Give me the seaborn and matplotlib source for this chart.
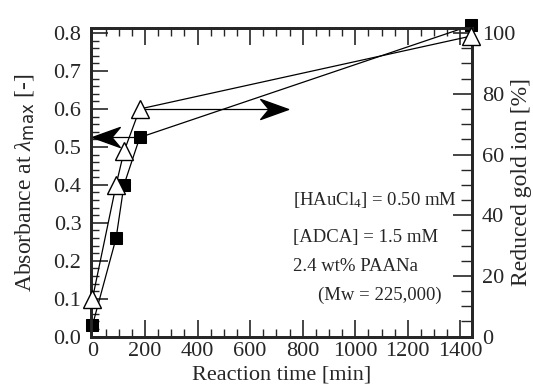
"""Absorbance and reduced gold ion vs reaction time."""

import matplotlib.pyplot as plt
import numpy as np
import pandas as pd
import seaborn as sns
from matplotlib.path import Path
from matplotlib.ticker import MultipleLocator

# data
time_min = [0, 90, 120, 180, 1440]
absorbance = [0.03, 0.26, 0.40, 0.525, 0.82]
reduced_pct = [12.5, 50, 61, 75, 99]

# arrows: (y value, from x, to x)
abs_arrow = (0.525, 180, 0)
pct_arrow = (75, 180, 745)

annot_lines = [
    r"[HAuCl$_4$] = 0.50 mM",
    "[ADCA] = 1.5 mM",
    "2.4 wt% PAANa",
    "(Mw = 225,000)",
]
annot_x = [763, 763, 763, 860]
annot_y = [0.36, 0.262, 0.186, 0.11]

sns.set_style("ticks")
plt.rcParams["font.family"] = ["Liberation Serif", "DejaVu Serif"]
plt.rcParams["mathtext.fontset"] = "custom"
plt.rcParams["mathtext.rm"] = "Liberation Serif"
plt.rcParams["mathtext.it"] = "Liberation Serif:italic"
plt.rcParams["mathtext.sf"] = "DejaVu Sans"

df = pd.DataFrame({"time": time_min, "abs": absorbance, "pct": reduced_pct})

fig = plt.figure(figsize=(5.33, 3.91), dpi=100)
ax = fig.add_axes([0.171, 0.139, 0.715, 0.789])
ax2 = ax.twinx()

ymax = 0.813
ax.set_xlim(-5, 1445)
ax.set_ylim(0, ymax)
ax2.set_ylim(0, ymax / 0.8 * 100)

sns.lineplot(data=df, x="time", y="abs", ax=ax, color="black", lw=0.9,
             marker="s", markersize=8, markerfacecolor="black",
             markeredgecolor="black", clip_on=False, zorder=3)
sns.lineplot(data=df, x="time", y="pct", ax=ax2, color="black", lw=0.9,
             marker="^", markersize=13, markerfacecolor="white",
             markeredgecolor="black", markeredgewidth=1.0, clip_on=False,
             zorder=3)

# stealth style arrow heads
head_r = Path([(0, 0), (-1, 0.36), (-0.7, 0), (-1, -0.36), (0, 0)],
              [Path.MOVETO, Path.LINETO, Path.LINETO, Path.LINETO, Path.CLOSEPOLY])
head_l = Path([(0, 0), (1, 0.36), (0.7, 0), (1, -0.36), (0, 0)],
              [Path.MOVETO, Path.LINETO, Path.LINETO, Path.LINETO, Path.CLOSEPOLY])

y, x0, x1 = abs_arrow
ax.plot([x0, x1], [y, y], color="black", lw=0.9, zorder=2)
ax.plot([x1], [y], marker=head_l, ms=40, color="black", clip_on=False, zorder=4)
y, x0, x1 = pct_arrow
ax2.plot([x0, x1], [y, y], color="black", lw=0.9, zorder=2)
ax2.plot([x1], [y], marker=head_r, ms=40, color="black", clip_on=False, zorder=4)

# ticks
ax.xaxis.set_major_locator(MultipleLocator(200))
ax.xaxis.set_minor_locator(MultipleLocator(50))
ax.yaxis.set_major_locator(MultipleLocator(0.1))
ax.yaxis.set_minor_locator(MultipleLocator(0.02))
ax2.yaxis.set_major_locator(MultipleLocator(20))
ax2.yaxis.set_minor_locator(MultipleLocator(5))
ax.yaxis.set_major_formatter(plt.FuncFormatter(lambda v, p: f"{v:.1f}"))
ax.tick_params(axis="x", which="both", direction="in", top=True, pad=4)
ax.tick_params(axis="y", which="both", direction="in", right=False, pad=7)
ax.tick_params(which="major", length=12, width=1.2, labelsize=16)
ax.tick_params(which="minor", length=6, width=1.0)
ax2.tick_params(which="both", direction="in", pad=7)
ax2.tick_params(which="major", length=14, width=1.2, labelsize=16)
ax2.tick_params(which="minor", length=8, width=1.0)
for a in (ax, ax2):
    for s in a.spines.values():
        s.set_linewidth(2)
        s.set_visible(True)

ax.set_xlabel("Reaction time [min]", fontsize=16, labelpad=3)
ax.set_ylabel(r"Absorbance at $\lambda_{\mathsf{max}}$ [-]", fontsize=17,
              va="center")
ax.yaxis.set_label_coords(-0.175, 0.5)
ax2.set_ylabel("Reduced gold ion [%]", fontsize=17, va="center")
ax2.yaxis.set_label_coords(1.13, 0.5)

for txt, xx, yy in zip(annot_lines, annot_x, annot_y):
    ax.text(xx, yy, txt, fontsize=13.5, va="center", ha="left")

fig.savefig("out.png", dpi=100)
